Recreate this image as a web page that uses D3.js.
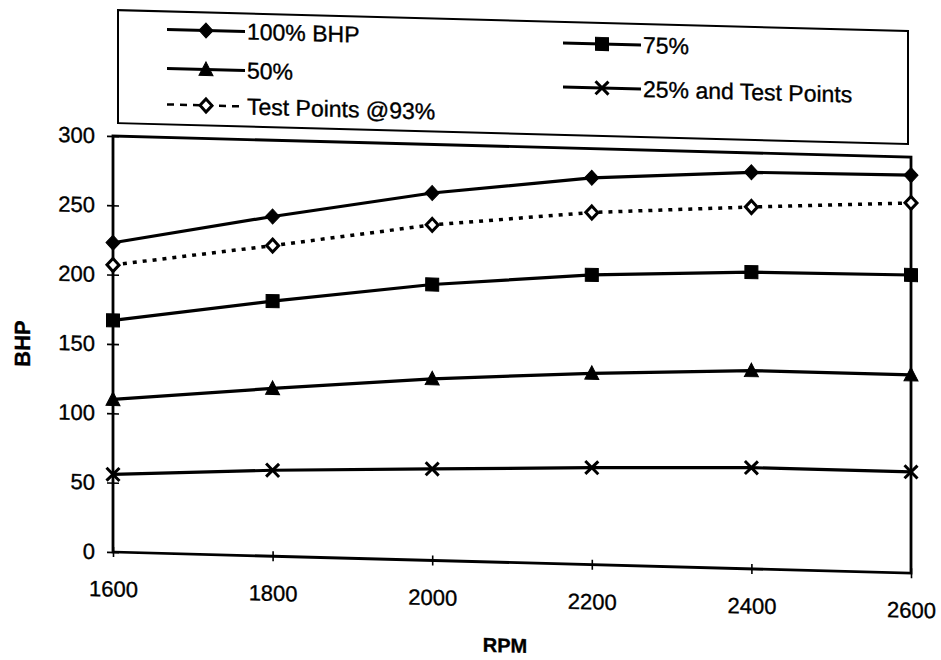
<!DOCTYPE html>
<html>
<head>
<meta charset="utf-8">
<script src="https://cdn.jsdelivr.net/npm/d3@7"></script>
<style>
  html, body { margin: 0; padding: 0; background: #fff; }
  svg text { font-family: "Liberation Sans", Arial, sans-serif; fill: #000; stroke: #000; stroke-width: 0.35px; }
</style>
</head>
<body>
<svg id="chart" width="941" height="660"></svg>
<script>
// Engine speed (RPM) and brake horsepower curves
const rpm = [1600, 1800, 2000, 2200, 2400, 2600];
const bhp100 = [223, 245, 265, 279, 286, 287];
const bhp75 = [167, 184, 199, 209, 214, 215];
const bhp50 = [110, 121, 131, 138, 143, 143];
const bhp25 = [56, 62, 66, 70, 73, 73];
const test93 = [207, 224, 242, 254, 261, 267];
const yTickValues = [0, 50, 100, 150, 200, 250, 300];
const xTickValues = [1600, 1800, 2000, 2200, 2400, 2600];
const seriesNames = ["100% BHP", "75%", "50%", "25% and Test Points", "Test Points @93%"];

// Marker shapes as d3 symbol types
const diamond = { draw(ctx, s) { const w = 7, h = 7.5; ctx.moveTo(0, -h); ctx.lineTo(w, 0); ctx.lineTo(0, h); ctx.lineTo(-w, 0); ctx.closePath(); } };
const hollowDiamond = { draw(ctx, s) { const w = 6, h = 6.5; ctx.moveTo(0, -h); ctx.lineTo(w, 0); ctx.lineTo(0, h); ctx.lineTo(-w, 0); ctx.closePath(); } };
const square = { draw(ctx, s) { ctx.rect(-6.5, -6.5, 13, 13); } };
const triangle = { draw(ctx, s) { ctx.moveTo(0, -7.5); ctx.lineTo(7, 6); ctx.lineTo(-7, 6); ctx.closePath(); } };
const cross = { draw(ctx, s) { const r = 6.5; ctx.moveTo(-r, -r); ctx.lineTo(r, r); ctx.moveTo(-r, r); ctx.lineTo(r, -r); } };

const series = [
  { name: seriesNames[0], values: bhp100, shape: diamond, fill: "#000", dash: null },
  { name: seriesNames[1], values: bhp75, shape: square, fill: "#000", dash: null },
  { name: seriesNames[2], values: bhp50, shape: triangle, fill: "#000", dash: null },
  { name: seriesNames[3], values: bhp25, shape: cross, fill: "none", dash: null },
  { name: seriesNames[4], values: test93, shape: hollowDiamond, fill: "#fff", dash: "4,6" }
];

const svg = d3.select("#chart");
// The whole sheet leans slightly downward to the right
const lean = Math.atan(0.0265) * 180 / Math.PI;
const root = svg.append("g").attr("transform", `skewY(${lean})`);

const x = d3.scaleLinear().domain([1600, 2600]).range([113, 911]);
const y = d3.scaleLinear().domain([0, 300]).range([549, 133]);

// Plot frame
root.append("rect")
  .attr("x", x.range()[0]).attr("y", y(300))
  .attr("width", x.range()[1] - x.range()[0])
  .attr("height", y(0) - y(300))
  .attr("fill", "none").attr("stroke", "#000").attr("stroke-width", 2.8);

// Y axis
const yAxis = root.append("g")
  .attr("transform", `translate(${x.range()[0]},0)`)
  .call(d3.axisLeft(y).tickValues(yTickValues).tickSizeInner(6).tickSizeOuter(0).tickPadding(12));
yAxis.select(".domain").remove();
yAxis.selectAll(".tick line").attr("x1", 6).attr("stroke", "#000").attr("stroke-width", 1.6);
yAxis.selectAll(".tick text").style("font-size", "22px").attr("fill", "#000");

// X axis
const xAxis = root.append("g")
  .attr("transform", `translate(0,${y(0)})`)
  .call(d3.axisBottom(x).tickValues(xTickValues).tickFormat(d3.format("d")).tickSizeInner(5).tickSizeOuter(0).tickPadding(0));
xAxis.select(".domain").remove();
xAxis.selectAll(".tick line").attr("y1", -5).attr("stroke", "#000").attr("stroke-width", 1.6);
xAxis.selectAll(".tick text").attr("y", 29).style("font-size", "22px").attr("fill", "#000");

// Axis titles
root.append("text")
  .attr("transform", "translate(30,343) rotate(-90)")
  .attr("text-anchor", "middle")
  .style("font-size", "22px").style("font-weight", "bold")
  .text("BHP");
root.append("text")
  .attr("x", 505).attr("y", 639)
  .attr("text-anchor", "middle")
  .style("font-size", "20px").style("font-weight", "bold")
  .text("RPM");

// Series lines and markers
const line = d3.line().x((d, i) => x(rpm[i])).y(d => y(d));
const symbolGen = d3.symbol().size(100);

series.forEach(s => {
  root.append("path")
    .datum(s.values)
    .attr("d", line)
    .attr("fill", "none")
    .attr("stroke", "#000")
    .attr("stroke-width", s.dash ? 3.5 : 3.2)
    .attr("stroke-dasharray", s.dash);
  root.append("g").selectAll("path")
    .data(s.values)
    .join("path")
    .attr("transform", (d, i) => `translate(${x(rpm[i])},${y(d)})`)
    .attr("d", symbolGen.type(s.shape))
    .attr("fill", s.fill)
    .attr("stroke", "#000")
    .attr("stroke-width", s.shape === cross || s.shape === hollowDiamond ? 3 : 1);
});

// Legend
const legend = root.append("g");
legend.append("rect")
  .attr("x", 118).attr("y", 7).attr("width", 790).attr("height", 113)
  .attr("fill", "#fff").attr("stroke", "#000").attr("stroke-width", 2);

const legendSpots = [
  { x: 167, y: 25 },
  { x: 563, y: 28 },
  { x: 167, y: 64 },
  { x: 563, y: 72 },
  { x: 167, y: 100 }
];

series.forEach((s, i) => {
  const p = legendSpots[i];
  const item = legend.append("g").attr("transform", `translate(${p.x},${p.y})`);
  item.append("line")
    .attr("x1", 0).attr("x2", 78).attr("y1", 0).attr("y2", 0)
    .attr("stroke", "#000")
    .attr("stroke-width", s.dash ? 2.5 : 3)
    .attr("stroke-dasharray", s.dash ? "7,6" : null);
  item.append("path")
    .attr("transform", "translate(39,0)")
    .attr("d", symbolGen.type(s.shape))
    .attr("fill", s.fill === "none" ? "none" : (s.dash ? "#fff" : "#000"))
    .attr("stroke", "#000")
    .attr("stroke-width", s.shape === cross || s.shape === hollowDiamond ? 3 : 1);
  item.append("text")
    .attr("x", 80).attr("y", 8)
    .style("font-size", "23px")
    .text(s.name);
});
</script>
</body>
</html>
